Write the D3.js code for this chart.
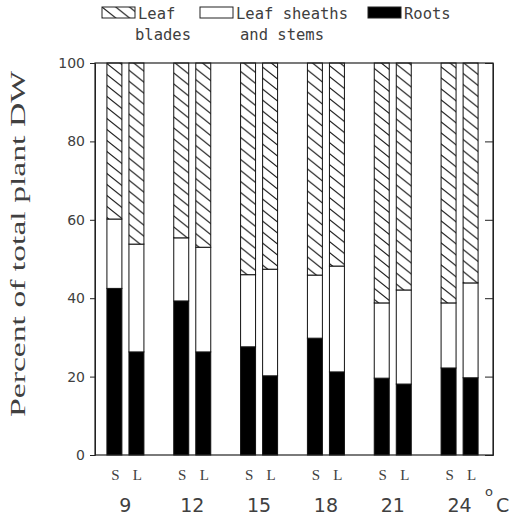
<!DOCTYPE html>
<html>
<head>
<meta charset="utf-8">
<script src="https://cdn.jsdelivr.net/npm/d3@7"></script>
<style>
  html, body { margin: 0; padding: 0; background: #fff; }
  svg { display: block; }
</style>
</head>
<body>
<svg id="chart" width="510" height="527"></svg>
<script>
// Growth temperatures (°C) and day lengths (S = short day, L = long day)
const temperatures = ["9", "12", "15", "18", "21", "24"];
const dayLengths = ["S", "L"];

// Dry-weight allocation, percent of total plant DW, per temperature
const rootsS   = [42.5, 39.3, 27.6, 29.8, 19.6, 22.2];
const rootsL   = [26.3, 26.3, 20.2, 21.2, 18.1, 19.7];
const sheathsS = [17.7, 16.1, 18.4, 16.1, 19.2, 16.6];
const sheathsL = [27.5, 26.7, 27.2, 27.0, 24.0, 24.2];
// leaf blades make up the remainder of each bar
const bladesS  = rootsS.map((r, i) => +(100 - r - sheathsS[i]).toFixed(1));
const bladesL  = rootsL.map((r, i) => +(100 - r - sheathsL[i]).toFixed(1));

const yTicks = [0, 20, 40, 60, 80, 100];
const parts = ["roots", "sheaths", "blades"];
const legendItems = [
  { key: "blades",  lines: ["Leaf", "blades"] },
  { key: "sheaths", lines: ["Leaf sheaths", "and stems"] },
  { key: "roots",   lines: ["Roots"] }
];

// flat table, one row per bar
const rows = [];
temperatures.forEach((t, i) => {
  rows.push({ temp: t, day: "S", roots: rootsS[i], sheaths: sheathsS[i], blades: bladesS[i] });
  rows.push({ temp: t, day: "L", roots: rootsL[i], sheaths: sheathsL[i], blades: bladesL[i] });
});

const svg = d3.select("#chart");
const frame = { left: 95, right: 493, top: 63, bottom: 455 };

const textColor = "#404040";
const monoFont = "'DejaVu Sans Mono', 'Liberation Mono', monospace";
const sansFont = "'DejaVu Sans', sans-serif";
const serifFont = "'Liberation Serif', 'DejaVu Serif', serif";

// diagonal hatching for leaf blades
const defs = svg.append("defs");
const hw = 13.75, hh = 11;
const pat = defs.append("pattern")
  .attr("id", "hatch")
  .attr("patternUnits", "userSpaceOnUse")
  .attr("width", hw).attr("height", hh);
pat.append("rect").attr("width", hw).attr("height", hh).attr("fill", "#fff");
pat.append("path")
  .attr("d", `M${-hw},${-hh}L${2 * hw},${2 * hh}M${-hw},0L${hw},${2 * hh}M0,${-hh}L${2 * hw},${hh}`)
  .attr("stroke", "#1a1a1a").attr("stroke-width", 1.1).attr("fill", "none");

const fills = { roots: "#000", sheaths: "#fff", blades: "url(#hatch)" };

// scales
const x0 = d3.scaleBand().domain(temperatures).range([92, 493]);
const half = 18.5;
const x1 = d3.scaleBand().domain(dayLengths)
  .range([x0.bandwidth() / 2 - half, x0.bandwidth() / 2 + half])
  .paddingInner(0.32);
const y = d3.scaleLinear().domain([0, 100]).range([frame.bottom, frame.top]);

const stack = d3.stack().keys(parts);
const series = stack(rows);

// bars
const barG = svg.append("g");
series.forEach(s => {
  barG.selectAll(null)
    .data(s)
    .join("rect")
    .attr("x", d => x0(d.data.temp) + x1(d.data.day))
    .attr("y", d => y(d[1]))
    .attr("width", x1.bandwidth())
    .attr("height", d => y(d[0]) - y(d[1]))
    .attr("fill", fills[s.key])
    .attr("stroke", "#111")
    .attr("stroke-width", 1);
});

// frame
svg.append("rect")
  .attr("x", frame.left).attr("y", frame.top)
  .attr("width", frame.right - frame.left)
  .attr("height", frame.bottom - frame.top)
  .attr("fill", "none").attr("stroke", "#222").attr("stroke-width", 1.2);

// left axis with labels
const yAxis = d3.axisLeft(y).tickValues(yTicks).tickSize(5).tickPadding(5);
const gy = svg.append("g").attr("transform", `translate(${frame.left},0)`).call(yAxis);
gy.select(".domain").attr("stroke", "#222");
gy.selectAll(".tick line").attr("stroke", "#222");
gy.selectAll(".tick text")
  .attr("font-family", sansFont).attr("font-size", 14).attr("fill", textColor);

// right axis: inward ticks only
const yAxisR = d3.axisRight(y).tickValues(yTicks).tickSize(-8).tickFormat("");
const gr = svg.append("g").attr("transform", `translate(${frame.right},0)`).call(yAxisR);
gr.select(".domain").attr("stroke", "#222");
gr.selectAll(".tick line").attr("stroke", "#222");

// y title
svg.append("text")
  .attr("transform", "translate(25,244) rotate(-90)")
  .attr("text-anchor", "middle")
  .attr("font-family", serifFont)
  .attr("font-size", 21)
  .attr("textLength", 346)
  .attr("lengthAdjust", "spacingAndGlyphs")
  .attr("fill", textColor)
  .text("Percent of total plant DW");

// S / L labels under the bars
svg.append("g").selectAll("text")
  .data(rows)
  .join("text")
  .attr("x", d => x0(d.temp) + x1(d.day) + x1.bandwidth() / 2 + 1)
  .attr("y", 480)
  .attr("text-anchor", "middle")
  .attr("font-family", serifFont)
  .attr("font-size", 15)
  .attr("fill", textColor)
  .text(d => d.day);

// temperature labels
svg.append("g").selectAll("text")
  .data(temperatures)
  .join("text")
  .attr("x", d => x0(d) + x0.bandwidth() / 2)
  .attr("y", 512)
  .attr("text-anchor", "middle")
  .attr("font-family", sansFont)
  .attr("font-size", 19)
  .attr("fill", textColor)
  .text(d => d);

// unit
svg.append("text")
  .attr("x", 485).attr("y", 496)
  .attr("font-family", sansFont).attr("font-size", 13)
  .attr("fill", textColor).text("o");
svg.append("text")
  .attr("x", 496).attr("y", 512)
  .attr("font-family", sansFont).attr("font-size", 19)
  .attr("fill", textColor).text("C");

// legend
const legendX = [102, 200, 368];
const lg = svg.append("g");
legendItems.forEach((item, i) => {
  const g = lg.append("g").attr("transform", `translate(${legendX[i]},7)`);
  g.append("rect")
    .attr("width", 33).attr("height", 11)
    .attr("fill", fills[item.key])
    .attr("stroke", "#222").attr("stroke-width", 1);
  item.lines.forEach((line, j) => {
    g.append("text")
      .attr("x", j === 0 ? 36 : 36 + (i === 0 ? -3 : 4))
      .attr("y", 12 + j * 21)
      .attr("font-family", monoFont)
      .attr("font-size", 15.5)
      .attr("fill", textColor)
      .text(line);
  });
});
</script>
</body>
</html>
